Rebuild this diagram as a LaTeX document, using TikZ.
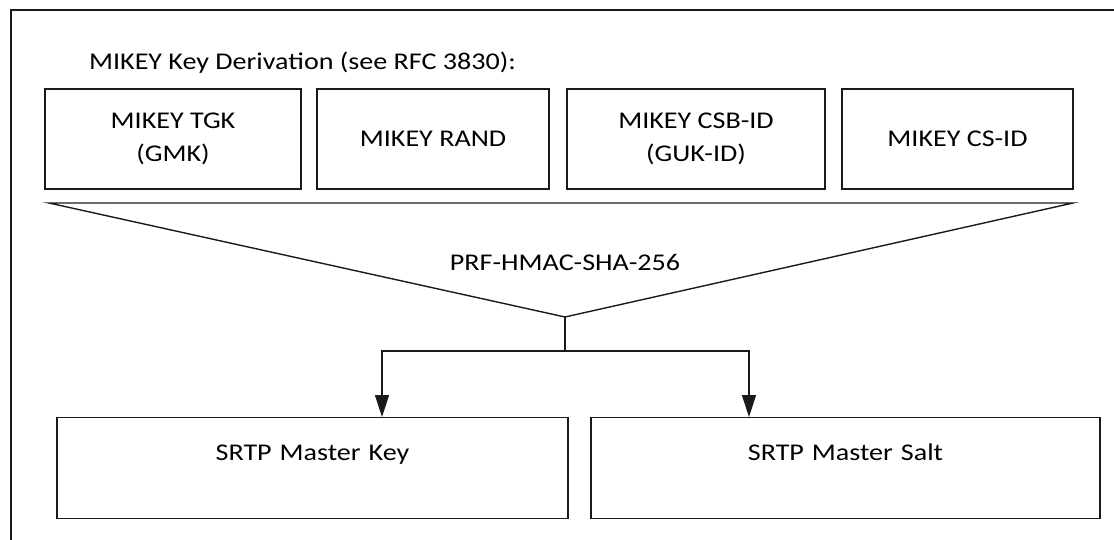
\documentclass[tikz,border=0pt]{standalone}
\usepackage{fontspec}
\setmainfont[FakeStretch=1.17]{Carlito}
\usetikzlibrary{arrows.meta, positioning, calc}
\definecolor{mkline}{HTML}{1A1A1A}

\begin{document}
\begin{tikzpicture}[
  x=0.5pt, y=-0.5pt,
  every node/.style={font=\fontsize{12}{16.35}\selectfont, text=black},
  inbox/.style={rectangle, draw=mkline, line width=0.7pt, minimum height=50pt, align=center, inner sep=0pt},
  outbox/.style={rectangle, draw=mkline, line width=0.7pt, anchor=north, align=center, inner xsep=0pt, inner ysep=0pt, text height=21.5pt, text depth=29pt},
  wire/.style={draw=mkline, line width=0.7pt},
  flow/.style={wire, -{Triangle[length=11pt, width=7pt]}},
]
\useasboundingbox (0,0) rectangle (1114,540);
\draw[mkline, line width=1pt] (10.5,540) -- (10.5,10.5) -- (1114,10.5);

\node[anchor=base west] (title) at (82,70) {MIKEY Key Derivation (see RFC 3830):};

\node[inbox, minimum width=128pt] (tgk) at (173,139) {MIKEY TGK\\(GMK)};
\node[inbox, minimum width=116pt] (rand) at (433,139) {MIKEY RAND};
\node[inbox, minimum width=129pt] (csb) at (696,139) {MIKEY CSB-ID\\(GUK-ID)};
\node[inbox, minimum width=115.5pt] (csid) at (957.5,139) {MIKEY CS-ID};

% Funnel
\coordinate (funL) at (49,203);
\coordinate (funR) at (1073,203);
\coordinate (apex) at (565,317);
\coordinate (fork) at (565,351);
\draw[wire, line join=miter] (funL) -- (funR) -- (apex) -- cycle;
\node[anchor=base] (prf) at (565,270) {PRF-HMAC-SHA-256};

\node[outbox, text width=255.5pt] (mkey) at (312.5,417) {SRTP Master Key};
\node[outbox, text width=254.5pt] (msalt) at (845.5,417) {SRTP Master Salt};

% Outputs
\draw[wire] (apex) -- (fork);
\draw[flow] (fork) -| ([xshift=34.75pt]mkey.north);
\draw[flow] (fork) -| ([xshift=-48.25pt]msalt.north);
\end{tikzpicture}
\end{document}
